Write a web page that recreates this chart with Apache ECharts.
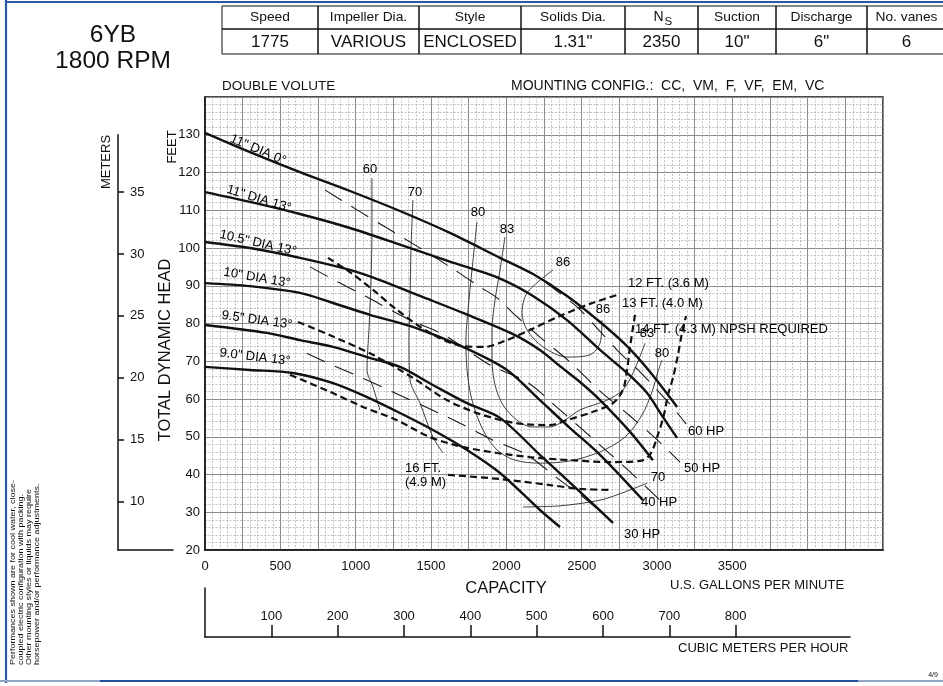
<!DOCTYPE html>
<html><head><meta charset="utf-8">
<script src="https://cdn.jsdelivr.net/npm/echarts@6/dist/echarts.min.js"></script>
<style>html,body{margin:0;padding:0;background:#fff}#c{width:943px;height:686px}</style>
</head><body><div id="c"></div>
<script>
// ---------------- DATA ----------------
const gpmTicks = [0, 500, 1000, 1500, 2000, 2500, 3000, 3500];
const feetTicks = [20, 30, 40, 50, 60, 70, 80, 90, 100, 110, 120, 130];
const meterTicks = [10, 15, 20, 25, 30, 35];
const m3hTicks = [100, 200, 300, 400, 500, 600, 700, 800];

const tableHeaders = ['Speed', 'Impeller Dia.', 'Style', 'Solids Dia.', 'N', 'Suction', 'Discharge', 'No. vanes'];
const tableValues = ['1775', 'VARIOUS', 'ENCLOSED', '1.31"', '2350', '10"', '6"', '6'];

// head-capacity curves [gpm, feet]
const dia11_0 = [[0,130.5],[299,125.4],[630,120.1],[962,115.1],[1294,109.8],[1626,104.0],[1958,97.4],[2177,93.1],[2403,87.3],[2622,80.4],[2801,74.0],[2953,67.2],[3133,57.9]];
const dia11_13 = [[0,114.8],[299,112.2],[630,109.0],[962,105.3],[1294,100.9],[1626,96.4],[1958,91.9],[2177,87.3],[2403,80.9],[2622,73.0],[2801,66.9],[2934,61.6],[3040,55.2],[3133,49.7]];
const dia105_13 = [[0,101.6],[299,100.0],[630,97.4],[962,94.2],[1161,91.5],[1427,87.3],[1712,82.8],[2044,77.2],[2223,73.0],[2356,68.7],[2489,64.5],[2622,59.7],[2821,51.3],[2973,43.8]];
const dia10_13 = [[0,90.7],[299,89.9],[630,88.1],[830,85.7],[1095,82.3],[1380,79.1],[1712,73.8],[2004,67.7],[2223,59.7],[2423,52.3],[2622,45.2],[2907,33.2]];
const dia95_13 = [[0,79.6],[411,77.5],[630,75.6],[850,73.8],[1075,71.1],[1294,68.5],[1513,63.7],[1739,58.9],[1958,55.0],[2223,45.2],[2489,35.4],[2708,27.2]];
const dia90_13 = [[0,68.5],[299,67.7],[584,66.9],[850,64.2],[1075,60.5],[1294,56.3],[1513,51.8],[1739,46.5],[1958,40.4],[2223,30.6],[2356,26.1]];

// NPSH required curves [gpm, feet]
const npsh12 = [[816,97.4],[962,93.6],[1115,88.9],[1274,83.6],[1493,77.5],[1712,74.0],[1858,73.8],[1991,75.4],[2157,78.3],[2356,82.0],[2555,85.2],[2754,87.8]];
const npsh13 = [[617,80.4],[830,76.9],[1115,71.7],[1380,65.6],[1606,59.7],[1825,56.0],[2064,53.6],[2290,53.1],[2403,54.4],[2575,56.6],[2708,58.9],[2774,62.4],[2801,67.7],[2821,73.8],[2854,82.3]];
const npsh14 = [[564,66.4],[830,61.9],[1049,57.9],[1274,54.4],[1493,49.9],[1712,47.3],[1938,45.7],[2157,44.6],[2423,43.8],[2688,43.3],[2887,43.6],[2953,45.2],[3006,50.5],[3046,55.8],[3073,61.1],[3106,65.6],[3139,71.7],[3166,77.5],[3193,82.0]];
const npsh16 = [[1613,39.9],[1958,38.8],[2290,37.2],[2489,36.2],[2688,35.9]];

// efficiency contours [gpm, feet]
const eff60 = [[1108,118.5],[1108,104.8],[1102,91.5],[1088,78.3],[1075,67.7],[1115,63.2],[1161,57.1]];
const eff70 = [[1380,112.7],[1367,99.5],[1361,86.2],[1354,75.6],[1361,65.0],[1427,58.9],[1513,49.9],[1580,45.7]];
const eff80 = [[1805,106.9],[1779,96.8],[1752,86.2],[1732,75.6],[1739,67.7],[1772,59.7],[1845,51.8],[1938,46.5],[2057,43.8],[2223,43.0],[2423,43.6],[2622,46.0],[2788,49.9],[2901,55.8],[2967,61.9],[3006,67.2],[3033,70.3]];
const eff83 = [[1991,102.9],[1958,94.2],[1925,86.2],[1905,78.3],[1905,70.3],[1925,63.7],[1978,58.4],[2071,54.4],[2170,52.6],[2290,52.6],[2389,54.4],[2489,57.1],[2668,59.7],[2774,62.4],[2841,66.9],[2921,74.8]];
const eff86 = [[2310,94.2],[2137,88.1],[2104,82.8],[2137,78.3],[2243,73.8],[2403,71.1],[2555,71.7],[2622,74.8],[2635,80.9]];
const eff70r = [[2111,31.4],[2356,31.7],[2622,33.2],[2788,35.4],[2934,37.7]];

// horsepower lines [gpm, feet]
const hp60 = [[2257,91.0],[2469,84.4],[2602,78.8],[2754,72.2],[2887,67.2],[3000,62.4],[3091,58.4],[3193,53.4]];
const hp50 = [[796,115.4],[1009,110.1],[1208,105.3],[1414,100.3],[1626,95.0],[1825,89.7],[1938,86.8],[2057,82.3],[2223,76.4],[2423,69.8],[2622,62.1],[2821,55.5],[2987,49.7],[3153,43.3]];
const hp40 = [[697,95.0],[896,90.7],[1075,87.0],[1361,80.9],[1560,77.5],[1692,74.3],[1892,69.0],[2137,64.5],[2356,57.1],[2622,47.8],[2821,40.7],[3020,33.2]];
const hp30 = [[675,72.1],[816,69.5],[1042,65.6],[1261,61.6],[1480,57.6],[1692,53.6],[1911,49.1],[2137,45.2],[2336,39.1],[2535,33.2],[2708,27.2]];

// ---------------- LAYOUT ----------------
const FONT = '"Liberation Sans", Arial, Helvetica, sans-serif';
const INK = '#111';
const FT_PER_M = 3.28084, GPM_PER_M3H = 4.40287;
const PL = 205, PT = 97, PW = 678, PH = 453;
const XMAX = 4500, YMIN = 20, YMAX = 140;
const M_TOP_FT = 130;
const mGridTop = PT + (YMAX - M_TOP_FT) * PH / (YMAX - YMIN);
const M3_W = 645;
const M3_MAX = M3_W / PW * XMAX / GPM_PER_M3H;

// labels anchored in chart units
const curveLabels = [
  {t:'11" DIA 0°', x:352, y:126.0, r:-23},
  {t:'11" DIA 13°', x:358, y:113.0, r:-17},
  {t:'10.5" DIA 13°', x:352, y:101.3, r:-13},
  {t:'10" DIA 13°', x:345, y:92.1, r:-10},
  {t:'9.5" DIA 13°', x:345, y:80.9, r:-8},
  {t:'9.0" DIA 13°', x:332, y:71.1, r:-7},
  {t:'60', x:1095, y:120.7}, {t:'70', x:1394, y:114.6}, {t:'80', x:1812, y:109.3},
  {t:'83', x:2004, y:104.8}, {t:'86', x:2376, y:96.3}, {t:'86', x:2642, y:83.6},
  {t:'83', x:2934, y:77.5}, {t:'80', x:3033, y:72.2}, {t:'70', x:3006, y:39.1},
  {t:'12 FT. (3.6 M)', x:2807, y:90.5, a:'left'},
  {t:'13 FT. (4.0 M)', x:2768, y:85.2, a:'left'},
  {t:'14 FT. (4.3 M) NPSH REQUIRED', x:2854, y:78.3, a:'left'},
  {t:'16 FT.', x:1327, y:41.7, a:'left'},
  {t:'(4.9 M)', x:1327, y:38.0, a:'left'},
  {t:'60 HP', x:3206, y:51.3, a:'left'},
  {t:'50 HP', x:3179, y:41.7, a:'left'},
  {t:'40 HP', x:2894, y:32.7, a:'left'},
  {t:'30 HP', x:2781, y:24.2, a:'left'}
];

const series = [];
function addLine(data, style, z) {
  series.push({type:'line', data, xAxisIndex:0, yAxisIndex:0, showSymbol:false, symbol:'none',
    smooth:0.3, silent:true, animation:false, z, lineStyle:style});
}
const effStyle = {color:'#2a2a2a', width:0.9};
[eff60, eff70, eff80, eff83, eff86, eff70r].forEach(d => addLine(d, effStyle, 2));
const hpStyle = {color:'#1a1a1a', width:1.1, type:[20, 11]};
[hp60, hp50, hp40, hp30].forEach(d => addLine(d, hpStyle, 3));
const npshStyle = {color:INK, width:2.2, type:[7, 4]};
[npsh12, npsh13, npsh14, npsh16].forEach(d => addLine(d, npshStyle, 4));
const headStyle = {color:INK, width:2.4};
[dia11_0, dia11_13, dia105_13, dia10_13, dia95_13, dia90_13].forEach(d => addLine(d, headStyle, 5));

series.push({type:'scatter', xAxisIndex:0, yAxisIndex:0, symbolSize:0, silent:true, animation:false, z:6,
  itemStyle:{opacity:1},
  data: curveLabels.map(l => ({value:[l.x, l.y], itemStyle:{opacity:1},
    label:{show:true, position:[0,0], formatter:() => l.t, opacity:1,
    rotate:l.r || 0, align:l.a || 'center', verticalAlign:'middle', fontSize:13, fontFamily:FONT, color:'#000'}}))
});

// ---------------- GRAPHIC ----------------
const g = [];
function txt(text, x, y, size, opts) {
  opts = opts || {};
  g.push({type:'text', x, y, rotation:opts.rot || 0, scaleX:opts.sx || 1, z:10, style:{text, x:0, y:0, fill:opts.fill || INK,
    font: size + 'px ' + FONT, align:opts.align || 'left', verticalAlign:'middle'}});
}
function line(x1, y1, x2, y2, color, w) {
  g.push({type:'line', z:9, shape:{x1, y1, x2, y2}, style:{stroke:color, lineWidth:w}});
}
// blue frame
line(6, 0, 6, 683, '#2a58a6', 2.2);
line(6, 2, 943, 2, '#2a58a6', 2);
line(0, 681, 943, 681, '#8fa6c9', 2);
line(100, 681, 858, 681, '#2350a0', 2.2);

// title
txt('6YB', 113, 35, 24.5, {align:'center'});
txt('1800 RPM', 113, 61, 24.5, {align:'center'});

// table
const colX = [222, 318, 419, 521, 625, 698, 776, 867, 946];
for (let i = 0; i < tableHeaders.length; i++) {
  const x0 = colX[i], w = colX[i + 1] - colX[i];
  g.push({type:'rect', z:9, shape:{x:x0, y:6, width:w, height:23}, style:{fill:'none', stroke:INK, lineWidth:1}});
  g.push({type:'rect', z:9, shape:{x:x0, y:29, width:w, height:25}, style:{fill:'none', stroke:INK, lineWidth:1}});
  const cx = x0 + w / 2;
  if (tableHeaders[i] === 'N') {
    txt('N', cx + 2, 17, 14, {align:'right'});
    txt('S', cx + 3, 22, 11.5);
  } else {
    txt(tableHeaders[i], cx, 17, 13.5, {align:'center', sx:1.02});
  }
  txt(tableValues[i], cx, 42, 17, {align:'center'});
}

txt('DOUBLE VOLUTE', 222, 86, 13.5);
txt('MOUNTING CONFIG.:  CC,  VM,  F,  VF,  EM,  VC', 511, 86, 14);

txt('FEET', 172, 147, 13, {rot:Math.PI / 2, align:'center'});
txt('METERS', 106, 162, 13, {rot:Math.PI / 2, align:'center'});
txt('TOTAL DYNAMIC HEAD', 165, 350, 16.5, {rot:Math.PI / 2, align:'center'});

txt('CAPACITY', 506, 588, 16.5, {align:'center'});
txt('U.S. GALLONS PER MINUTE', 670, 585, 13);
txt('CUBIC METERS PER HOUR', 678, 648, 13);

const note = ['Performances shown are for cool water, close-', 'coupled electric configuration with packing.',
  'Other mounting styles or liquids may require', 'horsepower and/or performance adjustments.'];
note.forEach((s, i) => txt(s, 13 + i * 8, 665, 7.5, {rot:Math.PI / 2, sx:1.2}));
txt('4/9', 933, 675, 7, {align:'center'});

// ---------------- CHART ----------------
const chart = echarts.init(document.getElementById('c'), null, {renderer:'canvas'});
const axLine = {show:true, lineStyle:{color:INK, width:1.5}};
const minorLine = {show:true, lineStyle:{color:'#b2b2b2', width:0.8, type:[2, 1.5]}};
const majorLine = {show:true, lineStyle:{color:'#8c8c8c', width:1}};
const lbl = {fontSize:13, color:INK, fontFamily:FONT};
chart.setOption({
  animation:false,
  backgroundColor:'#fff',
  grid:[
    {left:PL, top:PT, width:PW, height:PH, show:true, borderColor:INK, borderWidth:1.5, backgroundColor:'transparent'},
    {left:118, top:mGridTop, width:55, height:PT + PH - mGridTop},
    {left:PL, top:588, width:M3_W, height:49}
  ],
  xAxis:[
    {gridIndex:0, type:'value', min:0, max:XMAX, interval:250, axisLine:axLine, axisTick:{show:false},
      axisLabel:Object.assign({margin:10, formatter:v => gpmTicks.includes(v) ? String(v) : ''}, lbl),
      splitLine:majorLine, minorTick:{show:false, splitNumber:5}, minorSplitLine:minorLine},
    {gridIndex:1, type:'value', min:0, max:1, axisLine:axLine, axisTick:{show:false}, axisLabel:{show:false}, splitLine:{show:false}},
    {gridIndex:2, type:'value', min:0, max:M3_MAX, axisLine:axLine,
      axisTick:{show:true, inside:true, length:12, customValues:m3hTicks, lineStyle:{color:INK, width:1.5}},
      axisLabel:Object.assign({inside:true, margin:14, customValues:m3hTicks}, lbl), splitLine:{show:false}}
  ],
  yAxis:[
    {gridIndex:0, type:'value', min:YMIN, max:YMAX, interval:10, axisLine:axLine, axisTick:{show:false},
      axisLabel:Object.assign({margin:5, formatter:v => feetTicks.includes(v) ? String(v) : ''}, lbl),
      splitLine:majorLine, minorTick:{show:false, splitNumber:5}, minorSplitLine:minorLine},
    {gridIndex:1, type:'value', min:YMIN / FT_PER_M, max:M_TOP_FT / FT_PER_M, axisLine:axLine,
      axisTick:{show:true, inside:true, length:6, customValues:meterTicks, lineStyle:{color:INK, width:1.5}},
      axisLabel:Object.assign({inside:true, margin:12, customValues:meterTicks}, lbl), splitLine:{show:false}},
    {gridIndex:2, type:'value', min:0, max:1, axisLine:axLine, axisTick:{show:false}, axisLabel:{show:false}, splitLine:{show:false}}
  ],
  series,
  graphic:g
});
</script></body></html>
